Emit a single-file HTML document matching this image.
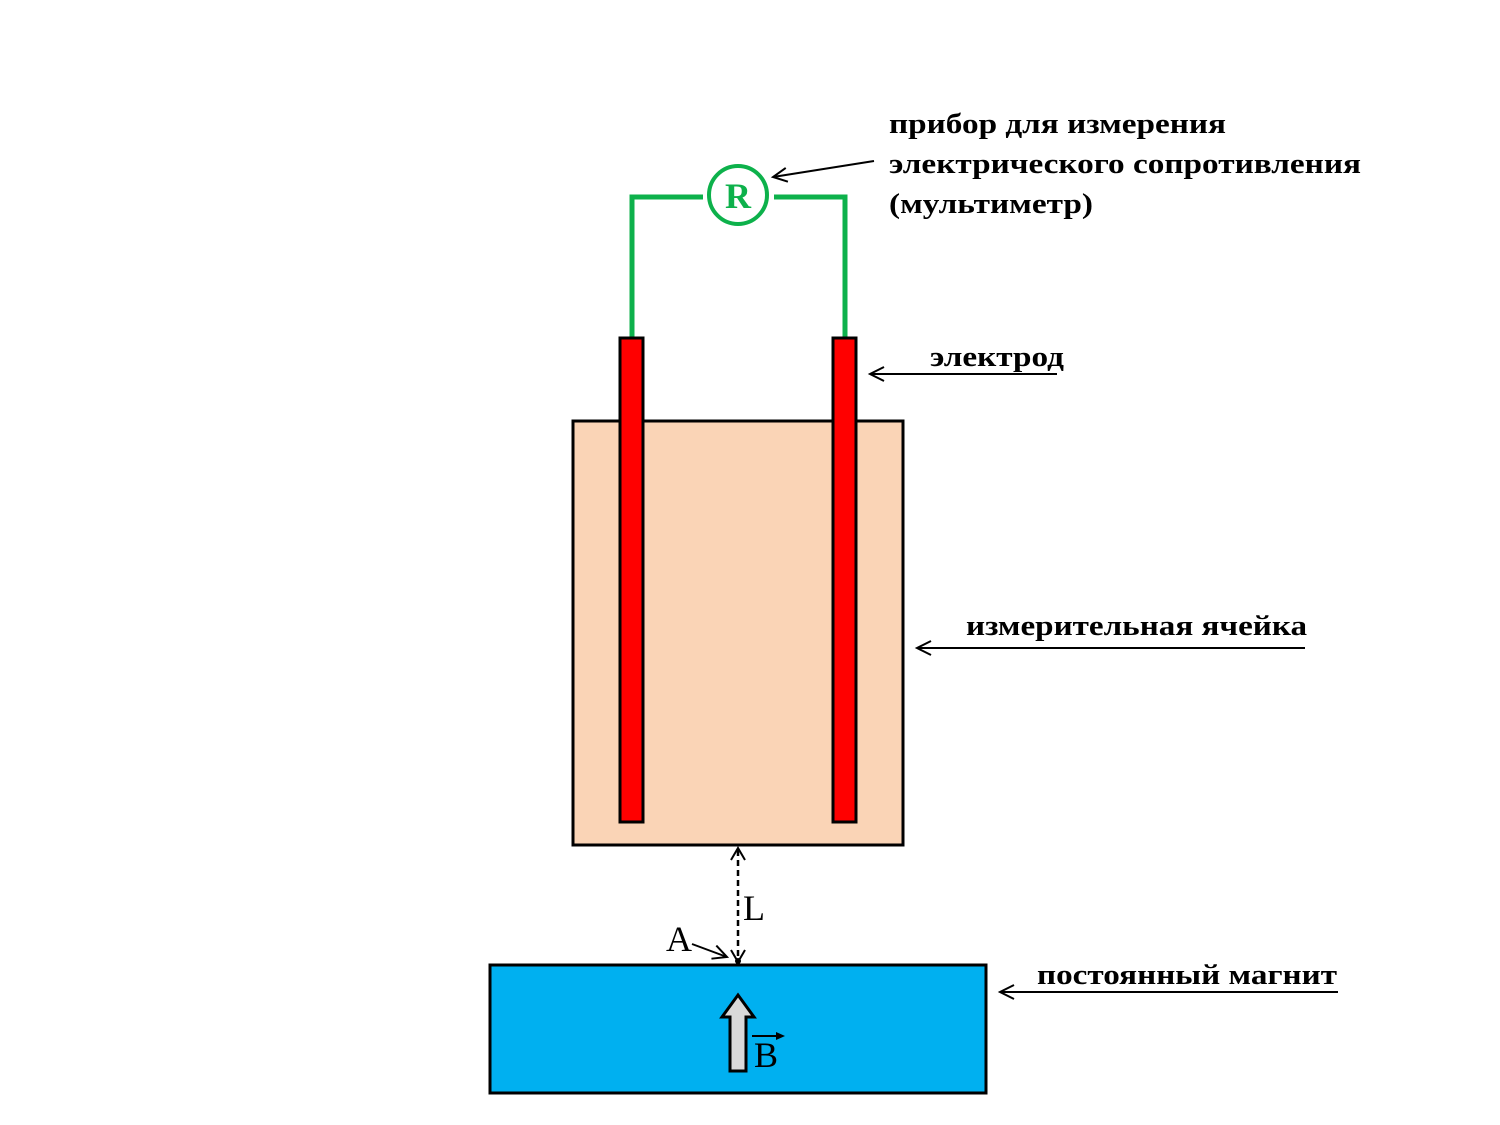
<!DOCTYPE html>
<html><head><meta charset="utf-8"><style>
html,body{margin:0;padding:0;background:#fff;width:1500px;height:1125px;overflow:hidden}
svg text{font-family:"Liberation Serif",serif}
</style></head><body>
<svg width="1500" height="1125" viewBox="0 0 1500 1125" xmlns="http://www.w3.org/2000/svg">
<defs>
<marker id="ah" markerWidth="20" markerHeight="20" refX="16" refY="8" orient="auto" markerUnits="userSpaceOnUse">
<path d="M2,1 L16,8 L2,15" fill="none" stroke="#000" stroke-width="2"/>
</marker>
</defs>
<polyline points="632,338 632,197 703,197" fill="none" stroke="#0db14b" stroke-width="5"/>
<polyline points="774,197 845,197 845,338" fill="none" stroke="#0db14b" stroke-width="5"/>
<circle cx="738" cy="195" r="29" fill="#fff" stroke="#0db14b" stroke-width="4"/>
<text x="738" y="208" text-anchor="middle" font-size="36" font-weight="bold" fill="#0db14b">R</text>
<rect x="573" y="421" width="330" height="424" fill="#fad4b6" stroke="#000" stroke-width="3"/>
<rect x="620" y="338" width="23" height="484" fill="#ff0000" stroke="#000" stroke-width="3"/>
<rect x="833" y="338" width="23" height="484" fill="#ff0000" stroke="#000" stroke-width="3"/>
<rect x="490" y="965" width="496" height="128" fill="#00b0f0" stroke="#000" stroke-width="3"/>
<path d="M730,1071 L730,1017 L722,1017 L738,995 L754,1017 L746,1017 L746,1071 Z" fill="#d9d9d9" stroke="#000" stroke-width="3"/>
<text x="754" y="1067" font-size="36">B</text>
<line x1="752" y1="1036" x2="782" y2="1036" stroke="#000" stroke-width="2"/>
<path d="M776,1032 L785,1036 L776,1040 Z" fill="#000"/>
<line x1="738" y1="850" x2="738" y2="960" stroke="#000" stroke-width="2.5" stroke-dasharray="6,4"/>
<path d="M731,860 L738,848 L745,860" fill="none" stroke="#000" stroke-width="2"/>
<path d="M731,950 L738,962 L745,950" fill="none" stroke="#000" stroke-width="2"/>
<circle cx="738" cy="961" r="3" fill="#000"/>
<text x="743" y="920" font-size="36">L</text>
<text x="666" y="951" font-size="36">A</text>
<line x1="692" y1="944" x2="727" y2="957" stroke="#000" stroke-width="2" marker-end="url(#ah)"/>
<g font-size="29" font-weight="bold">
<text x="889" y="133" textLength="337" lengthAdjust="spacingAndGlyphs">прибор для измерения</text>
<text x="889" y="173" textLength="472" lengthAdjust="spacingAndGlyphs">электрического сопротивления</text>
<text x="889" y="213" textLength="204" lengthAdjust="spacingAndGlyphs">(мультиметр)</text>
<text x="930" y="366" textLength="134" lengthAdjust="spacingAndGlyphs">электрод</text>
<text x="966" y="635" textLength="341" lengthAdjust="spacingAndGlyphs">измерительная ячейка</text>
<text x="1037" y="984" textLength="300" lengthAdjust="spacingAndGlyphs">постоянный магнит</text>
</g>
<line x1="874" y1="161" x2="773" y2="177" stroke="#000" stroke-width="2" marker-end="url(#ah)"/>
<line x1="1057" y1="374" x2="870" y2="374" stroke="#000" stroke-width="2" marker-end="url(#ah)"/>
<line x1="1305" y1="648" x2="917" y2="648" stroke="#000" stroke-width="2" marker-end="url(#ah)"/>
<line x1="1338" y1="992" x2="1000" y2="992" stroke="#000" stroke-width="2" marker-end="url(#ah)"/>
</svg>
</body></html>
